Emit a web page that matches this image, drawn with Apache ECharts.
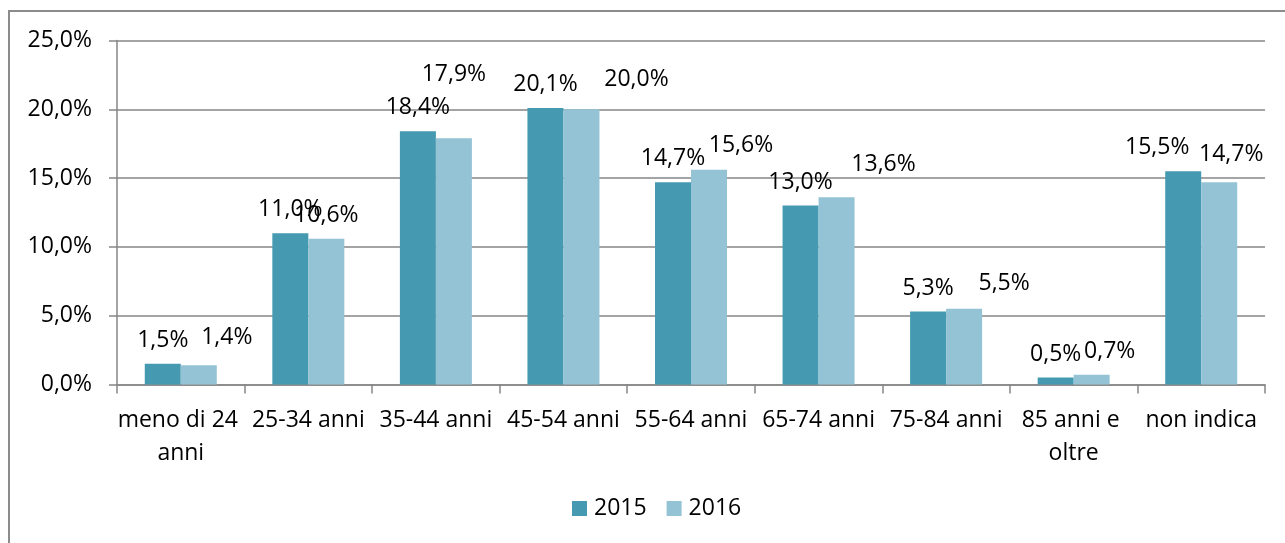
<!DOCTYPE html>
<html>
<head>
<meta charset="utf-8">
<title>Età</title>
<script src="https://cdn.jsdelivr.net/npm/echarts@6/dist/echarts.min.js"></script>
<style>
  html, body { margin: 0; padding: 0; background: #fff; }
  #main { width: 1285px; height: 543px; }
</style>
</head>
<body>
<div id="main"></div>
<script>
// categorie asse x
var categorie = ['meno di 24 anni', '25-34 anni', '35-44 anni', '45-54 anni', '55-64 anni',
  '65-74 anni', '75-84 anni', '85 anni e oltre', 'non indica'];
var anni = ['2015', '2016'];
var valori2015 = [1.5, 11.0, 18.4, 20.1, 14.7, 13.0, 5.3, 0.5, 15.5];
var valori2016 = [1.4, 10.6, 17.9, 20.0, 15.6, 13.6, 5.5, 0.7, 14.7];
var tickY = [0, 5, 10, 15, 20, 25];

// spostamento etichette come nell'originale (spostate a mano)
var spost2015 = [[0, 0], [0, 0], [0, 0], [0, 0], [0, 0], [0, 0], [0, 0], [0, 0], [-26, 0]];
var spost2016 = [[28, -4], [0, 0], [0, -40], [55, -6], [32, -1], [47, -9], [40, -2], [18, 0], [12, -4]];

var FONT = '"Open Sans", "Noto Sans", sans-serif';

function perc(v) {
  return v.toFixed(1).replace('.', ',') + '%';
}

function costruisci(valori, spost) {
  return valori.map(function (v, i) {
    return { value: v, label: { offset: spost[i] } };
  });
}

var myChart = echarts.init(document.getElementById('main'));
myChart.setOption({
  animation: false,
  backgroundColor: '#fff',
  textStyle: { fontFamily: FONT },
  graphic: [{
    type: 'rect',
    shape: { x: 9, y: 11, width: 1320, height: 560 },
    style: { fill: 'none', stroke: '#8c8c8c', lineWidth: 2 },
    silent: true
  }],
  grid: {
    left: 117,
    right: 20,
    top: 40.5,
    bottom: 158.5,
    containLabel: false,
    outerBoundsMode: 'none'
  },
  legend: {
    data: anni,
    left: 567,
    top: 492,
    itemWidth: 15,
    itemHeight: 15,
    itemGap: 20,
    icon: 'rect',
    textStyle: { fontFamily: FONT, fontSize: 23, color: '#000', padding: [0, 0, 0, 2] }
  },
  xAxis: {
    type: 'category',
    data: categorie,
    axisLine: { lineStyle: { color: '#868686', width: 1.5 } },
    axisTick: { show: true, length: 9, lineStyle: { color: '#868686', width: 1.5 } },
    axisLabel: {
      interval: 0,
      margin: 19,
      width: 127,
      overflow: 'break',
      lineHeight: 33,
      fontFamily: FONT,
      fontSize: 23,
      color: '#000'
    }
  },
  yAxis: {
    type: 'value',
    min: tickY[0],
    max: tickY[tickY.length - 1],
    interval: 5,
    axisLine: { show: true, lineStyle: { color: '#868686', width: 1.5 } },
    axisTick: { show: true, length: 8, lineStyle: { color: '#868686', width: 1.5 } },
    splitLine: { lineStyle: { color: '#868686', width: 1.5 } },
    axisLabel: {
      margin: 25,
      fontFamily: FONT,
      fontSize: 23,
      color: '#000',
      formatter: function (v) { return perc(v); }
    }
  },
  series: [
    {
      name: anni[0],
      type: 'bar',
      data: costruisci(valori2015, spost2015),
      barWidth: 36,
      barGap: '0%',
      itemStyle: { color: '#4599b1' },
      label: {
        show: true,
        position: 'top',
        distance: 12,
        fontFamily: FONT,
        fontSize: 23,
        color: '#000',
        formatter: function (p) { return perc(p.value); }
      }
    },
    {
      name: anni[1],
      type: 'bar',
      data: costruisci(valori2016, spost2016),
      barWidth: 36,
      barGap: '0%',
      itemStyle: { color: '#93c3d4' },
      label: {
        show: true,
        position: 'top',
        distance: 12,
        fontFamily: FONT,
        fontSize: 23,
        color: '#000',
        formatter: function (p) { return perc(p.value); }
      }
    }
  ]
});

window.addEventListener('resize', function () {
  myChart.resize();
});
</script>
</body>
</html>
